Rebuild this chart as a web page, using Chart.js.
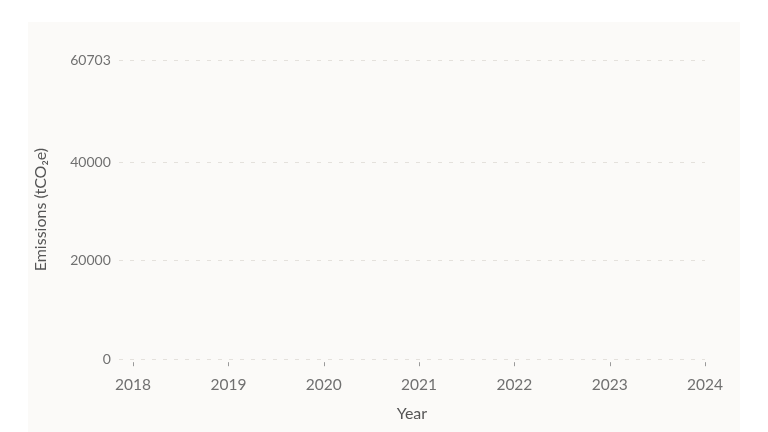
<!DOCTYPE html>
<html>
<head>
<meta charset="utf-8">
<script src="https://cdn.jsdelivr.net/npm/chart.js@4"></script>
<style>
html,body{margin:0;padding:0;background:#ffffff;width:768px;height:432px;overflow:hidden;}
#card{position:absolute;left:28px;top:22px;width:712px;height:410px;background:#fbfaf8;}
#wrap{position:absolute;left:0;top:0;width:768px;height:432px;}
</style>
</head>
<body>
<div id="card"></div>
<div id="wrap"><canvas id="c"></canvas></div>
<script>
const years = [2018, 2019, 2020, 2021, 2022, 2023, 2024];
const emissions = [null, null, null, null, null, null, null];
const yTicks = [0, 20000, 40000, 60703];
const yMax = 60703;

const tickMarks = {
  id: 'tickMarks',
  afterDraw(chart) {
    const ctx = chart.ctx, xs = chart.scales.x, y0 = chart.chartArea.bottom;
    ctx.save();
    ctx.strokeStyle = '#9a9a9a';
    ctx.lineWidth = 1;
    years.forEach(v => {
      const px = Math.round(xs.getPixelForValue(v)) + 0.5;
      ctx.beginPath();
      ctx.moveTo(px, y0 + 3);
      ctx.lineTo(px, y0 + 7);
      ctx.stroke();
    });
    ctx.restore();
  }
};

new Chart(document.getElementById('c'), {
  type: 'bar',
  data: {
    datasets: [{
      label: 'Emissions',
      data: years.map((y, i) => ({x: y, y: emissions[i]})),
      backgroundColor: '#8fb3a0'
    }]
  },
  options: {
    responsive: true,
    maintainAspectRatio: false,
    animation: false,
    layout: {padding: {left: 27, right: 63, top: 60, bottom: 5}},
    plugins: {legend: {display: false}, tooltip: {enabled: false}},
    scales: {
      x: {
        type: 'linear',
        offset: false,
        min: 2017.85,
        max: 2024,
        afterBuildTicks(s) { s.ticks = years.map(v => ({value: v})); },
        ticks: {
          callback: v => String(v),
          color: '#707070',
          font: {family: 'Lato', size: 15.5},
          padding: 16,
          maxRotation: 0
        },
        grid: {display: false, drawTicks: false},
        border: {display: false},
        title: {display: true, text: 'Year', color: '#555555', font: {family: 'Lato', size: 16}, padding: {top: -6, bottom: 4}}
      },
      y: {
        min: 0,
        max: yMax,
        afterBuildTicks(s) { s.ticks = yTicks.map(v => ({value: v})); },
        ticks: {
          callback: v => String(v),
          color: '#707070',
          font: {family: 'Lato', size: 14},
          padding: 8
        },
        grid: {color: '#e4e1dc', lineWidth: 1, drawTicks: false},
        border: {display: false, dash: [4, 7]},
        title: {display: true, text: 'Emissions (tCO\u2082e)', color: '#555555', font: {family: 'Lato', size: 16}, padding: {bottom: 12}}
      }
    }
  },
  plugins: [tickMarks]
});
</script>
</body>
</html>
